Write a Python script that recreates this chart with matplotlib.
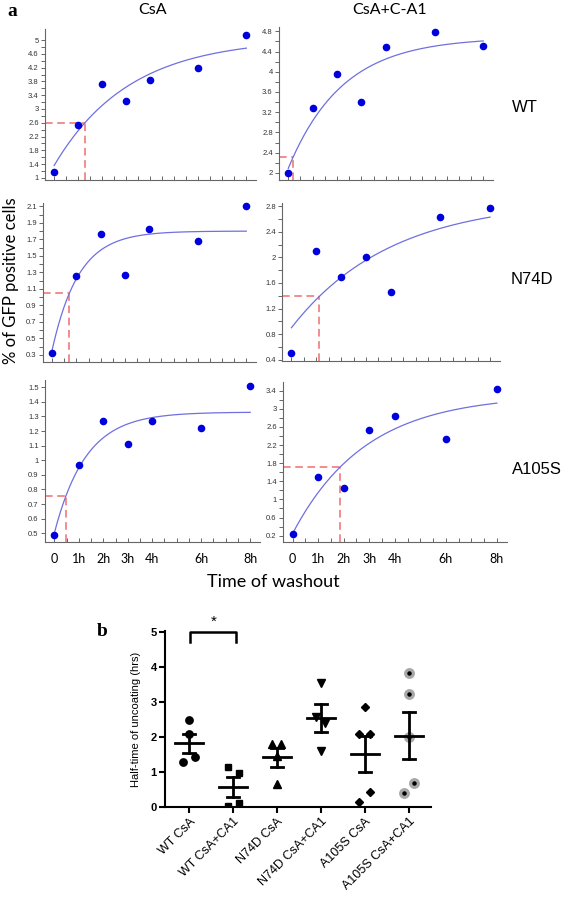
import numpy as np
import matplotlib
matplotlib.use("Agg")
import matplotlib.pyplot as plt

# ---- panel a data: % of GFP positive cells vs time of washout ----
hours = [0, 1, 2, 3, 4, 6, 8]
hour_labels = ['0', '1h', '2h', '3h', '4h', '6h', '8h']

wt_csa = [1.17, 2.53, 3.72, 3.24, 3.85, 4.19, 5.16]
wt_csa_ca1 = [2.00, 3.28, 3.95, 3.40, 4.48, 4.78, 4.51]
n74d_csa = [0.32, 1.26, 1.77, 1.27, 1.82, 1.675, 2.105]
n74d_csa_ca1 = [0.505, 2.10, 1.70, 2.00, 1.46, 2.63, 2.77]
a105s_csa = [0.49, 0.97, 1.27, 1.11, 1.27, 1.22, 1.51]
a105s_csa_ca1 = [0.23, 1.49, 1.26, 2.52, 2.85, 2.34, 3.44]

# one-phase association fit: plateau - span * exp(-rate * t)
fit_plateau = [5.05, 4.68, 1.80, 2.90, 1.33, 3.31]
fit_span = [3.69, 2.59, 1.435, 2.00, 0.83, 3.06]
fit_rate = [0.32, 0.45, 0.914, 0.25, 0.776, 0.35]
half_level = [2.6, 2.32, 1.05, 1.39, 0.755, 1.72]

col_titles = ['CsA', 'CsA+C-A1']
row_titles = ['WT', 'N74D', 'A105S']

# ---- panel b data: half-time of uncoating (hrs) ----
groups = ['WT CsA', 'WT CsA+CA1', 'N74D CsA', 'N74D CsA+CA1', 'A105S CsA', 'A105S CsA+CA1']
ht_wt_csa = [2.48, 2.09, 1.30, 1.43]
ht_wt_csa_ca1 = [1.14, 0.97, 0.05, 0.11]
ht_n74d_csa = [1.80, 1.80, 1.47, 0.66]
ht_n74d_csa_ca1 = [3.56, 2.57, 2.42, 1.61]
ht_a105s_csa = [2.86, 2.09, 2.09, 0.44, 0.14]
ht_a105s_csa_ca1 = [3.83, 3.24, 2.02, 0.70, 0.41]

W, H = 565, 898


def rect(l, t, r, b):
    return [l / W, 1 - b / H, (r - l) / W, (b - t) / H]


fig = plt.figure(figsize=(W / 100, H / 100), dpi=100)

series = [wt_csa, wt_csa_ca1, n74d_csa, n74d_csa_ca1, a105s_csa, a105s_csa_ca1]
boxes = [(45, 29, 256, 180), (279, 27, 493, 180),
         (43, 203, 256, 362), (282, 203, 500, 361),
         (45, 380, 260, 542), (283, 382, 507, 542)]
# ylim, first major, last major, major step, minor step
yaxes = [((0.94, 5.32), 1, 5, 0.4, 0.2),
         ((1.86, 4.885), 2, 4.8, 0.4, 0.2),
         ((0.215, 2.14), 0.3, 2.1, 0.2, 0.1),
         ((0.38, 2.85), 0.4, 2.8, 0.4, 0.2),
         ((0.44, 1.55), 0.5, 1.5, 0.1, None),
         ((0.06, 3.59), 0.2, 3.4, 0.4, 0.2)]

for i in range(6):
    ax = fig.add_axes(rect(*boxes[i]))
    ylim, y0, y1, step, mstep = yaxes[i]
    ax.set_xlim(-0.38, 8.4)
    ax.set_ylim(*ylim)
    for s in ['top', 'right']:
        ax.spines[s].set_visible(False)
    for s in ['left', 'bottom']:
        ax.spines[s].set_color('#666666')
        ax.spines[s].set_linewidth(0.8)
    ax.set_xticks(hours)
    if i >= 4:
        ax.set_xticklabels(hour_labels, fontsize=9, family='Lato')
    else:
        ax.set_xticklabels([])
    ax.set_xticks(np.arange(0, 8.01, 0.5), minor=True)
    ax.tick_params(axis='x', which='both', direction='in', length=3, width=0.7,
                   color='#666666', pad=8)
    ticks = np.round(np.arange(y0, y1 + 1e-6, step), 2)
    ax.set_yticks(ticks)
    ax.set_yticklabels(['{:g}'.format(t) for t in ticks], fontsize=5.5,
                       color='#333333', family='Liberation Sans')
    if mstep:
        ax.set_yticks(np.round(np.arange(y0, y1 + 1e-6, mstep), 2), minor=True)
    ax.tick_params(axis='y', which='both', direction='out', length=3, width=0.7,
                   color='#666666', pad=1.5)

    t = np.linspace(0, 8, 200)
    curve = fit_plateau[i] - fit_span[i] * np.exp(-fit_rate[i] * t)
    ax.plot(t, curve, color='#6f6fe0', lw=0.9, zorder=2)
    ax.scatter(hours, series[i], s=20, color='#0000dd', zorder=3, clip_on=False)

    t_half = -np.log((fit_plateau[i] - half_level[i]) / fit_span[i]) / fit_rate[i]
    ax.plot([-0.38, t_half], [half_level[i], half_level[i]], color='#ee6f6f',
            lw=1.1, dashes=(5, 3), zorder=1)
    ax.plot([t_half, t_half], [ylim[0], half_level[i]], color='#ee6f6f',
            lw=1.1, dashes=(5, 3), zorder=1)

# shared labels of panel a
fig.text(7 / W, 1 - 12 / H, 'a', fontsize=14, fontweight='bold',
         family='Liberation Serif', ha='left', va='center')
fig.text(153 / W, 1 - 10 / H, col_titles[0], fontsize=11.5, family='Lato',
         ha='center', va='center')
fig.text(390 / W, 1 - 10 / H, col_titles[1], fontsize=11.5, family='Lato',
         ha='center', va='center')
for name, (px, py) in zip(row_titles, [(525, 107), (532, 280), (537, 470)]):
    fig.text(px / W, 1 - py / H, name, fontsize=12, family='Liberation Sans',
             ha='center', va='center')
fig.text(11 / W, 1 - 281 / H, '% of GFP positive cells', fontsize=12,
         family='Lato', rotation=90, ha='center', va='center')
fig.text(273 / W, 1 - 582 / H, 'Time of washout', fontsize=13, family='Lato',
         ha='center', va='center')

# ---- panel b ----
bx = fig.add_axes(rect(165, 630.5, 431, 807.3))
bvals = [ht_wt_csa, ht_wt_csa_ca1, ht_n74d_csa, ht_n74d_csa_ca1,
         ht_a105s_csa, ht_a105s_csa_ca1]
jitter = [[0, 0, -0.13, 0.13], [-0.11, 0.13, -0.11, 0.13], [-0.12, 0.10, 0, 0],
          [0, -0.11, 0.10, 0], [0, -0.13, 0.12, 0.12, -0.13], [0, 0, 0, 0.12, -0.12]]
markers = ['o', 's', '^', 'v', 'D', 'o']
msize = [5.3, 4.8, 5.2, 5.2, 3.8, 6.8]

for g, vals in enumerate(bvals):
    xs = [g + j for j in jitter[g]]
    if g == 5:
        bx.plot(xs, vals, ls='none', marker='o', ms=msize[g], mfc='#a8a8a8',
                mec='#a8a8a8', zorder=2)
        bx.plot(xs, vals, ls='none', marker='o', ms=2.2, color='black', zorder=3)
    else:
        bx.plot(xs, vals, ls='none', marker=markers[g], ms=msize[g],
                color='black', zorder=2)
    m = np.mean(vals)
    sem = np.std(vals, ddof=1) / np.sqrt(len(vals))
    bx.plot([g - 0.31, g + 0.31], [m, m], color='black', lw=2, zorder=4)
    bx.plot([g, g], [m - sem, m + sem], color='black', lw=2, zorder=4)
    for yy in (m - sem, m + sem):
        bx.plot([g - 0.14, g + 0.14], [yy, yy], color='black', lw=2, zorder=4)

bx.set_xlim(-0.545, 5.5)
bx.set_ylim(0, 5.05)
for s in ['top', 'right']:
    bx.spines[s].set_visible(False)
for s in ['left', 'bottom']:
    bx.spines[s].set_linewidth(1.5)
bx.set_yticks([0, 1, 2, 3, 4, 5])
bx.set_yticklabels(['0', '1', '2', '3', '4', '5'], fontsize=8,
                   fontweight='bold', family='Liberation Sans')
bx.set_xticks(range(len(groups)))
bx.set_xticklabels(groups, rotation=45, ha='right', rotation_mode='anchor',
                   fontsize=9, family='Liberation Sans')
bx.tick_params(axis='both', direction='out', length=4, width=1.5, pad=2)
bx.set_ylabel('Half-time of uncoating (hrs)', fontsize=8, family='Liberation Sans',
              labelpad=7)

# significance bracket
bx.plot([0.02, 0.02, 1.06, 1.06], [4.72, 5.0, 5.0, 4.72], color='black', lw=1.8,
        clip_on=False)
bx.text(0.57, 5.1, '*', fontsize=11, ha='center', va='bottom',
        family='Liberation Sans')
fig.text(102 / W, 1 - 632 / H, 'b', fontsize=14, fontweight='bold',
         family='Liberation Serif', ha='center', va='center')

fig.savefig('out.png', dpi=100)
